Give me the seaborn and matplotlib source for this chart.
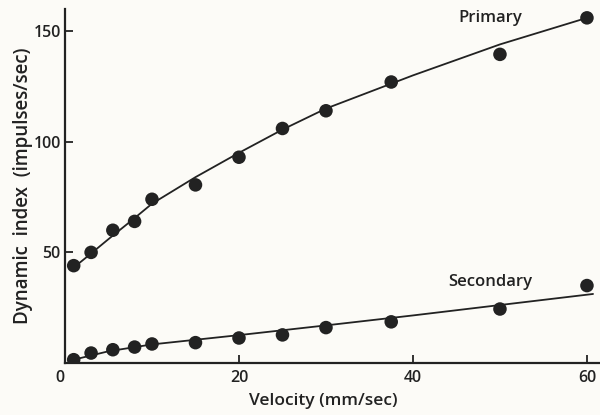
import matplotlib
matplotlib.use("Agg")
import matplotlib.pyplot as plt
import seaborn as sns
import pandas as pd

# Measured points
velocity = [1, 3, 5.5, 8, 10, 15, 20, 25, 30, 37.5, 50, 60]
primary = [44, 50, 60, 64, 74, 80.5, 93, 106, 114, 127, 139.5, 156]
secondary = [1.5, 4.5, 6, 7.2, 8.6, 9.2, 11.3, 12.7, 16, 18.6, 24.4, 35]

# Fitted curves
primary_fit_x = [0.8, 3, 5, 8, 10, 15, 20, 25, 30, 40, 50, 60]
primary_fit_y = [42.5, 49.5, 56, 65.5, 72, 84, 95, 105.5, 115, 130, 144, 156]
secondary_fit_x = [1, 5, 10, 20, 30, 40, 50, 60.7]
secondary_fit_y = [1.5, 5.3, 8.4, 12.6, 17, 21.5, 26.2, 31.2]

x_ticks = [0, 20, 40, 60]
y_ticks = [50, 100, 150]

sns.set_theme(style="ticks")
plt.rcParams["font.family"] = ["Open Sans", "DejaVu Sans"]

ink = "#222222"
bg = "#fcfbf7"

fig = plt.figure(figsize=(6, 4.15), dpi=100, facecolor=bg)
ax = fig.add_axes([65 / 600, 52 / 415, 535 / 600, 354 / 415])
ax.set_facecolor(bg)

df_p = pd.DataFrame({"v": velocity, "y": primary})
df_s = pd.DataFrame({"v": velocity, "y": secondary})
fit_p = pd.DataFrame({"v": primary_fit_x, "y": primary_fit_y})
fit_s = pd.DataFrame({"v": secondary_fit_x, "y": secondary_fit_y})

sns.lineplot(data=fit_p, x="v", y="y", ax=ax, color=ink, linewidth=1.3, sort=True)
sns.lineplot(data=fit_s, x="v", y="y", ax=ax, color=ink, linewidth=1.3, sort=True)
sns.scatterplot(data=df_p, x="v", y="y", ax=ax, color=ink, s=95, edgecolor="none", zorder=3)
sns.scatterplot(data=df_s, x="v", y="y", ax=ax, color=ink, s=95, edgecolor="none", zorder=3)

ax.set_xlim(0, 61.5)
ax.set_ylim(0, 160)
ax.set_xticks(x_ticks)
ax.set_yticks(y_ticks)
ax.set_xticklabels([str(t) for t in x_ticks])
ax.set_yticklabels([str(t) for t in y_ticks])

for s in ["top", "right"]:
    ax.spines[s].set_visible(False)
for s in ["left", "bottom"]:
    ax.spines[s].set_color(ink)
    ax.spines[s].set_linewidth(1.6)

ax.tick_params(axis="both", direction="in", length=6, width=1.3, color=ink,
               labelsize=11.5, labelcolor=ink, pad=3)
ax.tick_params(axis="x", pad=5)
for lbl in ax.get_xticklabels() + ax.get_yticklabels():
    lbl.set_fontweight("semibold")
ax.get_xticklabels()[0].set_horizontalalignment("right")

ax.set_xlabel("Velocity (mm/sec)", fontsize=12.5, color=ink, fontweight="semibold")
ax.xaxis.set_label_coords(0.482, -0.085)
ax.set_ylabel("Dynamic  index  (impulses/sec)", fontsize=13.5, color=ink,
              fontweight="semibold", labelpad=0)

ax.text(48.9, 156, "Primary", fontsize=12, color=ink, ha="center", va="center",
        fontweight="semibold")
ax.text(48.9, 36.7, "Secondary", fontsize=12, color=ink, ha="center", va="center",
        fontweight="semibold")

fig.savefig("out.png", dpi=100, facecolor=bg)
